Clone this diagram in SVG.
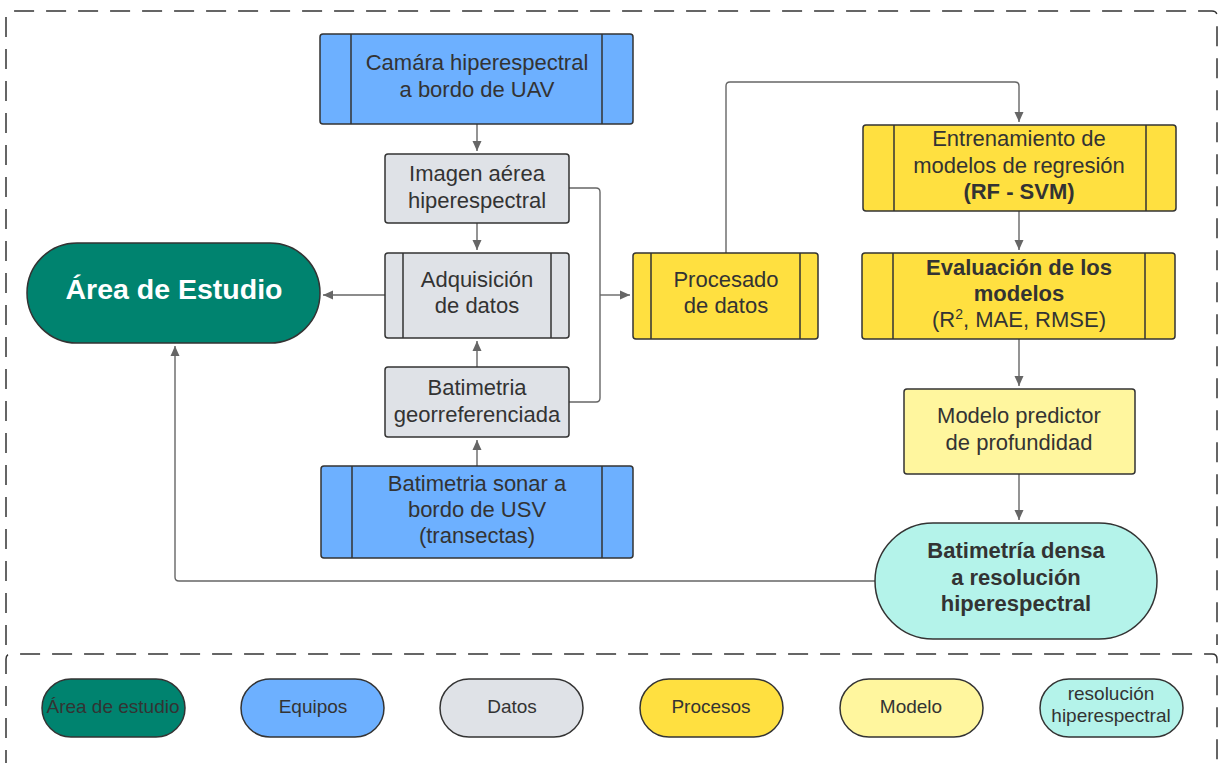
<svg xmlns="http://www.w3.org/2000/svg" width="1219" height="763" viewBox="0 0 1219 763">
<defs>
<style>
text{font-family:"Liberation Sans",Arial,sans-serif;fill:#333;text-anchor:middle}
.t{font-size:22px}
.b{font-weight:bold}
.lg{font-size:19px}
.box{stroke:#333;stroke-width:1.5}
.in{stroke:#333;stroke-width:1.5;fill:none}
.blue{fill:#6DB0FF}
.gray{fill:#DFE2E7}
.yel{fill:#FFE040}
.lyel{fill:#FFF69E}
.cyan{fill:#B4F3EA}
.green{fill:#00836F}
.con{fill:none;stroke:#666;stroke-width:1.4}
.frame{fill:none;stroke:#333;stroke-width:1.5;stroke-dasharray:20 12}
</style>
<marker id="ah" viewBox="0 0 10 10" refX="10" refY="5" markerWidth="10" markerHeight="10" markerUnits="userSpaceOnUse" orient="auto">
<path d="M0,0.5 L10,5 L0,9.5 z" fill="#666"/>
</marker>
</defs>
<rect width="1219" height="763" fill="#fff"/>
<g id="frames">
<path class="frame" d="M6,645 V16 Q6,11 11,11 H1212 Q1217,11 1217,16 V645"/>
<path class="frame" d="M6,770 V659 Q6,654 11,654 H1212 Q1217,654 1217,659 V770"/>
</g>
<g id="connectors">
<path class="con" d="M477,124 V151" marker-end="url(#ah)"/>
<path class="con" d="M477,223 V250" marker-end="url(#ah)"/>
<path class="con" d="M385,295 H323" marker-end="url(#ah)"/>
<path class="con" d="M477,367 V341" marker-end="url(#ah)"/>
<path class="con" d="M477,466 V440" marker-end="url(#ah)"/>
<path class="con" d="M569,188 H596 Q600,188 600,192 V398 Q600,402 596,402 H569"/>
<path class="con" d="M600,295 H630" marker-end="url(#ah)"/>
<path class="con" d="M726,253 V86 Q726,82 730,82 H1015 Q1019,82 1019,86 V122" marker-end="url(#ah)"/>
<path class="con" d="M1019,211 V250" marker-end="url(#ah)"/>
<path class="con" d="M1019,339 V386" marker-end="url(#ah)"/>
<path class="con" d="M1019,474 V520" marker-end="url(#ah)"/>
<path class="con" d="M875,581 H179 Q175,581 175,577 V346" marker-end="url(#ah)"/>
</g>
<g id="camara">
<rect class="box blue" x="320" y="34" width="313" height="90" rx="3"/>
<path class="in" d="M351,34 V124 M602,34 V124"/>
<text class="t" x="477" y="70">Camára hiperespectral</text>
<text class="t" x="477" y="97">a bordo de UAV</text>
</g>
<g id="imagen">
<rect class="box gray" x="385" y="154" width="184" height="69" rx="3"/>
<text class="t" x="477" y="181">Imagen aérea</text>
<text class="t" x="477" y="208">hiperespectral</text>
</g>
<g id="adquisicion">
<rect class="box gray" x="385" y="253" width="184" height="85" rx="3"/>
<path class="in" d="M403,253 V338 M551,253 V338"/>
<text class="t" x="477" y="287">Adquisición</text>
<text class="t" x="477" y="313">de datos</text>
</g>
<g id="area">
<rect class="box green" x="27" y="243" width="293" height="100" rx="50"/>
<text x="174" y="299" style="font-size:28.5px;font-weight:bold;fill:#fff">Área de Estudio</text>
</g>
<g id="batigeo">
<rect class="box gray" x="385" y="367" width="184" height="70" rx="3"/>
<text class="t" x="477" y="395">Batimetria</text>
<text class="t" x="477" y="422">georreferenciada</text>
</g>
<g id="sonar">
<rect class="box blue" x="321" y="466" width="312" height="92" rx="3"/>
<path class="in" d="M352,466 V558 M602,466 V558"/>
<text class="t" x="477" y="491">Batimetria sonar a</text>
<text class="t" x="477" y="517">bordo de USV</text>
<text class="t" x="477" y="543">(transectas)</text>
</g>
<g id="procesado">
<rect class="box yel" x="633" y="253" width="185" height="86" rx="3"/>
<path class="in" d="M651,253 V339 M800,253 V339"/>
<text class="t" x="726" y="287">Procesado</text>
<text class="t" x="726" y="313">de datos</text>
</g>
<g id="entrenamiento">
<rect class="box yel" x="863" y="125" width="313" height="86" rx="3"/>
<path class="in" d="M894,125 V211 M1146,125 V211"/>
<text class="t" x="1019" y="146">Entrenamiento de</text>
<text class="t" x="1019" y="173">modelos de regresión</text>
<text class="t b" x="1019" y="199">(RF - SVM)</text>
</g>
<g id="evaluacion">
<rect class="box yel" x="862" y="253" width="313" height="86" rx="3"/>
<path class="in" d="M893,253 V339 M1145,253 V339"/>
<text class="t b" x="1019" y="275">Evaluación de los</text>
<text class="t b" x="1019" y="301">modelos</text>
<text class="t" x="1019" y="327">(R<tspan dy="-8" style="font-size:14px">2</tspan><tspan dy="8">, MAE, RMSE)</tspan></text>
</g>
<g id="modelo">
<rect class="box lyel" x="904" y="389" width="231" height="85" rx="3"/>
<text class="t" x="1019" y="423">Modelo predictor</text>
<text class="t" x="1019" y="450">de profundidad</text>
</g>
<g id="densa">
<rect class="box cyan" x="875" y="523" width="282" height="116" rx="58"/>
<text class="t b" x="1016" y="558">Batimetría densa</text>
<text class="t b" x="1016" y="585">a resolución</text>
<text class="t b" x="1016" y="611">hiperespectral</text>
</g>
<g id="legend">
<g id="lg-area"><rect class="box green" x="42" y="679" width="143" height="58" rx="29"/><text class="lg" x="113" y="713">Área de estudio</text></g>
<g id="lg-equipos"><rect class="box blue" x="241" y="679" width="143" height="58" rx="29"/><text class="lg" x="313" y="713">Equipos</text></g>
<g id="lg-datos"><rect class="box gray" x="440" y="679" width="143" height="58" rx="29"/><text class="lg" x="512" y="713">Datos</text></g>
<g id="lg-procesos"><rect class="box yel" x="640" y="679" width="143" height="58" rx="29"/><text class="lg" x="711" y="713">Procesos</text></g>
<g id="lg-modelo"><rect class="box lyel" x="840" y="679" width="143" height="58" rx="29"/><text class="lg" x="911" y="713">Modelo</text></g>
<g id="lg-res"><rect class="box cyan" x="1040" y="679" width="143" height="58" rx="29"/><text class="lg" x="1111" y="700">resolución</text><text class="lg" x="1111" y="722">hiperespectral</text></g>
</g>
</svg>
